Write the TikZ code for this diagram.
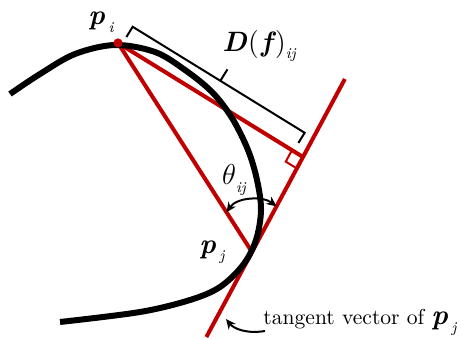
\documentclass[tikz,border=0pt]{standalone}
\usetikzlibrary{calc,arrows.meta}
\definecolor{ink}{HTML}{000000}
\definecolor{tanred}{HTML}{C00000}

% bold italic point with a lowered italic index
\newcommand{\psub}[1]{{\fontsize{14}{16}\selectfont\bfseries\itshape p}\,%
  \raisebox{-0.35em}{\fontsize{7.5}{9}\selectfont\itshape #1}}

\begin{document}
\begin{tikzpicture}[x=0.5pt, y=-0.5pt, font=\fontsize{10.8}{13}\selectfont]
  % pixel grid of the reference, y running down
  \useasboundingbox (0,0) rectangle (469,340);
  \tikzset{
    curveline/.style={ink, line width=3pt},
    redline/.style={tanred, line width=2pt},
    rightmark/.style={tanred, line width=1pt},
    brace/.style={ink, line width=1pt},
    anglearrow/.style={ink, line width=1pt, {Stealth[length=5pt,width=4.5pt]}-{Stealth[length=5pt,width=4.5pt]}},
    pointer/.style={ink, line width=1pt, -{Stealth[length=5pt,width=4.5pt]}},
    ptlabel/.style={inner sep=0pt}}

  % --- the points ---------------------------------------------------------
  \coordinate (pi) at (118,43);
  \coordinate (pj) at (252,252);
  \coordinate (F)  at (303,157);
  \coordinate (T1) at ($(F)!-0.821!(pj)$);
  \coordinate (T2) at ($(F)!1.895!(pj)$);

  % --- red construction: chord, distance, tangent --------------------------
  \draw[redline] (pi) -- (pj);
  \draw[redline] (pi) -- (F);
  \draw[redline] (T1) -- (T2);

  % right angle at the foot
  \coordinate (ra) at ($(F)!6.5pt!(pi)$);
  \coordinate (rb) at ($(F)!6.5pt!(pj)$);
  \draw[rightmark] (ra) -- ($(ra)+(rb)-(F)$) -- (rb);

  % --- the curve, drawn over the red lines ----------------------------------
  \draw[curveline] plot[smooth, tension=0.55] coordinates {
    (10,94) (40,74) (75,54) (115,45) (155,52) (185,70) (212,92) (232,118)
    (248,150) (257,180) (261,210) (256,240) (243,265) (220,287) (190,300)
    (140,312) (60,322)};
  \fill[tanred] (pi) circle[radius=2.3pt];

  % --- the bracket over D(f)_ij ---------------------------------------------
  \coordinate (b0) at ($(pi)!2pt!(F)$);
  \coordinate (b1) at ($(pi)!103pt!(F)$);
  \coordinate (bm) at ($(pi)!53.5pt!(F)$);
  \draw[brace] ($(b0)!4.75pt!90:(F)$) -- ($(b0)!10.75pt!90:(F)$)
    -- ($(b1)!10.75pt!90:(F)$) -- ($(b1)!4.75pt!90:(F)$);
  \draw[brace] ($(bm)!10.75pt!90:(F)$) -- ($(bm)!17.5pt!90:(F)$);

  % --- the angle between chord and tangent -----------------------------------
  \coordinate (aL) at ($(pi)!0.81!(pj)$);
  \coordinate (aR) at ($(F)!0.52!(pj)$);
  \draw[anglearrow] (aL) .. controls (237,197) and (263,196) .. (aR);

  % --- labels ---------------------------------------------------------------
  \node[ptlabel] (lpi) at (101,22) {\psub{i}};
  \node[ptlabel] (lpj) at (212,252) {\psub{j}};
  \node[ptlabel] (ldf) at (259,46)
    {{\fontsize{14}{16}\selectfont{\bfseries\itshape D}\kern0.05em(\kern0.08em{\bfseries\itshape f}\kern0.1em)}%
     \raisebox{-0.35em}{\fontsize{7.5}{9}\selectfont\itshape ij}};
  \node[ptlabel] (lth) at (234,180)
    {{\fontsize{15}{17}\selectfont$\theta$}\raisebox{-0.4em}{\fontsize{7.5}{9}\selectfont\itshape ij}};
  \node[ptlabel, anchor=base west] (tv) at (263,325) {tangent vector of \psub{j}};

  % pointer from the text to the tangent
  \coordinate (tvtail) at (265,331);
  \coordinate (tvtip)  at (226,319);
  \draw[pointer] (tvtail) .. controls (247,334) and (234,329) .. (tvtip);
\end{tikzpicture}
\end{document}
